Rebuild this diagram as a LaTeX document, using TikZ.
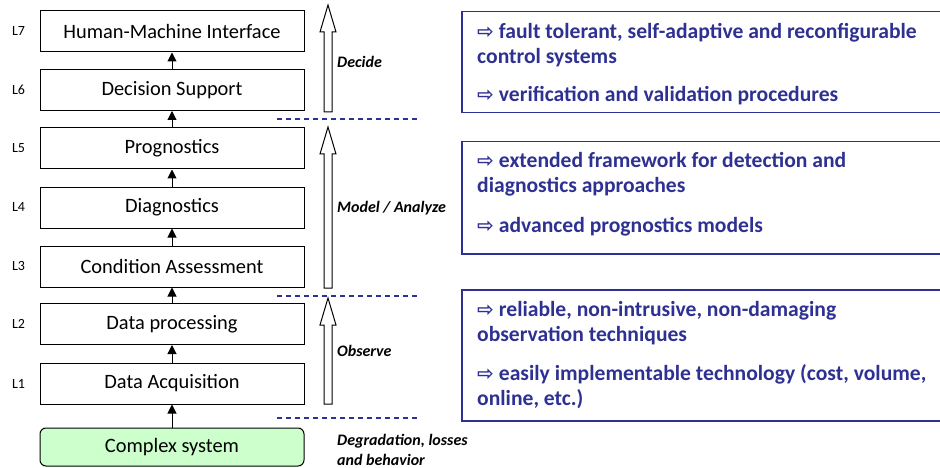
\documentclass[tikz,border=0pt]{standalone}
\usepackage{fontspec}
\setmainfont{Carlito}
\newfontfamily\symfont{DejaVu Sans}
\usetikzlibrary{arrows.meta}
\definecolor{navy}{RGB}{46,49,146}
\definecolor{lightgreen}{RGB}{204,255,204}
\newcommand\hollowarrow[2]{\draw[hollow] (324,#2) -- (324,#1+27) -- (320,#1+27) -- (328,#1) -- (336,#1+27) -- (332,#1+27) -- (332,#2) -- cycle;}
\newcommand\ar{{\symfont\bfseries\fontsize{20}{20}\selectfont ⇨}\hspace{5pt}}
\begin{document}
\begin{tikzpicture}[x=1pt,y=-1pt,
 layer/.style={draw=black,line width=1pt,minimum width=264pt,minimum height=41pt,inner sep=0pt,font=\fontsize{20.4}{24}\selectfont},
 lev/.style={font=\fontsize{14}{16}\selectfont,inner sep=0pt},
 up/.style={-{Triangle[width=9pt,length=9pt]},line width=1pt},
 phase/.style={font=\fontsize{16}{20}\selectfont\bfseries\itshape,anchor=west,align=left,inner sep=0pt},
 sep/.style={draw=navy,dash pattern=on 5pt off 4pt,line width=1.3pt},
 goal/.style={draw=navy,line width=1.5pt,inner sep=0pt,minimum width=500pt,anchor=north west},
 item/.style={font=\fontsize{21.6}{25}\selectfont\bfseries,text=navy,align=left,anchor=base west,inner sep=0pt},
 hollow/.style={draw=black,line width=1pt,fill=white}
]
\useasboundingbox (0,0) rectangle (940,468);

% layers
\node[layer] (l7) at (172,31.5) {Human-Machine Interface};
\node[layer] (l6) at (172,90) {Decision Support};
\node[layer] (l5) at (172,148.5) {Prognostics};
\node[layer] (l4) at (172,207.5) {Diagnostics};
\node[layer] (l3) at (172,266.5) {Condition Assessment};
\node[layer] (l2) at (172,324) {Data processing};
\node[layer] (l1) at (172,383.5) {Data Acquisition};
\node[layer,fill=lightgreen,rounded corners=6pt,minimum height=38pt] (cs) at (172,447) {Complex system};

\node[lev] (t7) at (18.5,31.5) {L7};
\node[lev] (t6) at (18.5,90) {L6};
\node[lev] (t5) at (18.5,148.5) {L5};
\node[lev] (t4) at (18.5,207.5) {L4};
\node[lev] (t3) at (18.5,266.5) {L3};
\node[lev] (t2) at (18.5,324) {L2};
\node[lev] (t1) at (18.5,383.5) {L1};

\draw[up] (cs) -- (l1);
\draw[up] (l1) -- (l2);
\draw[up] (l2) -- (l3);
\draw[up] (l3) -- (l4);
\draw[up] (l4) -- (l5);
\draw[up] (l5) -- (l6);
\draw[up] (l6) -- (l7);

% big hollow arrows
\hollowarrow{5}{112}
\hollowarrow{127}{288}
\hollowarrow{298}{404}

\node[phase] (pd) at (337,62) {Decide};
\node[phase] (pm) at (337,208) {Model / Analyze};
\node[phase] (po) at (337,351) {Observe};
\node[phase] (pg) at (337,450) {Degradation, losses\\and behavior};

% dashed separators
\coordinate (s1a) at (277,119); \coordinate (s1b) at (418,119);
\coordinate (s2a) at (277,296); \coordinate (s2b) at (418,296);
\coordinate (s3a) at (277,418); \coordinate (s3b) at (418,418);
\draw[sep] (s1a) -- (s1b);
\draw[sep] (s2a) -- (s2b);
\draw[sep] (s3a) -- (s3b);

% right boxes
\node[goal,minimum height=101pt] (g1) at (461,11) {};
\node[goal,minimum height=112pt] (g2) at (461,141) {};
\node[goal,minimum height=131pt] (g3) at (461,289) {};

\node[item] (i1) at (477,64) {\ar fault tolerant, self-adaptive and reconfigurable\\control systems};
\node[item] (i2) at (477,102) {\ar verification and validation procedures};
\node[item] (i3) at (477,193) {\ar extended framework for detection and\\diagnostics approaches};
\node[item] (i4) at (477,232) {\ar advanced prognostics models};
\node[item] (i5) at (477,341) {\ar reliable, non-intrusive, non-damaging\\observation techniques};
\node[item] (i6) at (477,405) {\ar easily implementable technology (cost, volume,\\online, etc.)};
\end{tikzpicture}
\end{document}
